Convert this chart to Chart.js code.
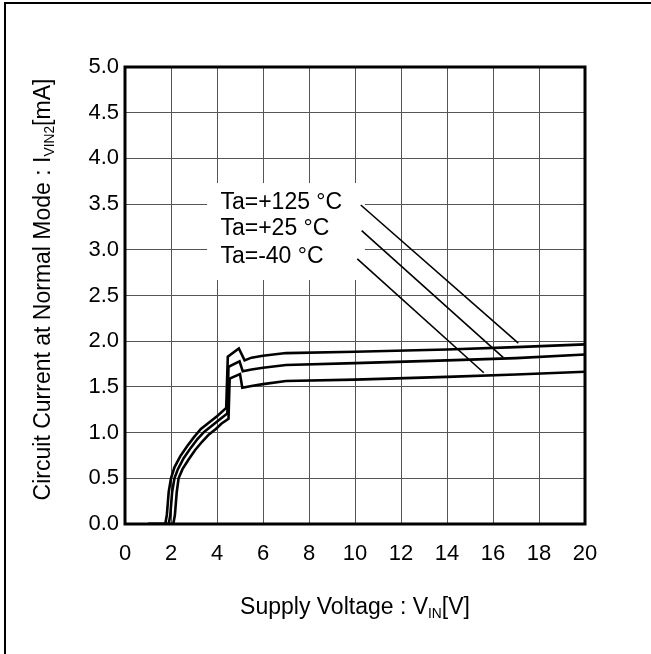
<!DOCTYPE html>
<html>
<head>
<meta charset="utf-8">
<script src="https://cdn.jsdelivr.net/npm/chart.js@4/dist/chart.umd.min.js"></script>
<style>
  html, body { margin: 0; padding: 0; background: #fff; }
  #wrap { position: relative; width: 651px; height: 654px; }
</style>
</head>
<body>
<div id="wrap"><canvas id="c"></canvas></div>
<script>
// Supply voltage [V] / circuit current [mA], one pair per temperature
const vin125 = [1.0, 1.75, 1.82, 1.9, 2.0, 2.15, 2.4, 2.7, 3.0, 3.3, 3.6, 4.0, 4.4, 4.47, 4.95, 5.2, 5.5, 6.0, 7.0, 10, 14, 17, 20];
const cur125 = [0, 0, 0.1, 0.35, 0.5, 0.62, 0.74, 0.85, 0.95, 1.04, 1.1, 1.18, 1.27, 1.83, 1.92, 1.79, 1.82, 1.84, 1.87, 1.885, 1.91, 1.935, 1.965];

const vin25 = [1.0, 1.9, 1.97, 2.05, 2.15, 2.3, 2.55, 2.85, 3.15, 3.45, 3.75, 4.1, 4.45, 4.5, 4.98, 5.12, 5.5, 6.0, 7.0, 10, 14, 17, 20];
const cur25 = [0, 0, 0.1, 0.35, 0.5, 0.6, 0.72, 0.83, 0.93, 1.01, 1.07, 1.14, 1.21, 1.72, 1.78, 1.67, 1.69, 1.71, 1.74, 1.76, 1.79, 1.815, 1.855];

const vinM40 = [1.0, 2.1, 2.17, 2.25, 2.33, 2.5, 2.75, 3.05, 3.35, 3.65, 3.95, 4.2, 4.5, 4.55, 5.0, 5.1, 5.5, 6.0, 7.0, 10, 14, 17, 20];
const curM40 = [0, 0, 0.1, 0.35, 0.5, 0.6, 0.7, 0.81, 0.9, 0.98, 1.04, 1.1, 1.15, 1.59, 1.64, 1.49, 1.51, 1.53, 1.565, 1.58, 1.61, 1.635, 1.665];

// leader lines from the temperature labels to the curves
const tempLabels = ['Ta=+125 °C', 'Ta=+25 °C', 'Ta=-40 °C'];
const leaderFromV = [10.25, 10.29, 10.1];
const leaderFromI = [3.49, 3.21, 2.90];
const leaderToV = [17.1, 16.45, 15.6];
const leaderToI = [1.98, 1.82, 1.655];

const xTicks = [0, 2, 4, 6, 8, 10, 12, 14, 16, 18, 20];
const yTicks = [0, 0.5, 1, 1.5, 2, 2.5, 3, 3.5, 4, 4.5, 5];

const FONT = "'Liberation Sans', Arial, sans-serif";
const TEXT = 23;

function pts(xs, ys) { return xs.map((x, i) => ({ x: x, y: ys[i] })); }

const curve = (xs, ys) => ({
  data: pts(xs, ys), showLine: true, borderColor: '#000', borderWidth: 2.6,
  pointRadius: 0, tension: 0, fill: false
});
const leader = i => ({
  data: [{ x: leaderFromV[i], y: leaderFromI[i] }, { x: leaderToV[i], y: leaderToI[i] }],
  showLine: true, borderColor: '#000', borderWidth: 1.6, pointRadius: 0, fill: false
});

// text with a subscript part: [[text, isSub], ...]
function richWidth(ctx, parts, size) {
  let w = 0;
  parts.forEach(p => {
    ctx.font = (p[1] ? size * 0.6 : size) + 'px ' + FONT;
    w += ctx.measureText(p[0]).width;
  });
  return w;
}
function richText(ctx, parts, x, y, size) {
  let cx = x - richWidth(ctx, parts, size) / 2;
  ctx.textAlign = 'left';
  ctx.textBaseline = 'alphabetic';
  parts.forEach(p => {
    ctx.font = (p[1] ? size * 0.6 : size) + 'px ' + FONT;
    ctx.fillText(p[0], cx, p[1] ? y + size * 0.18 : y);
    cx += ctx.measureText(p[0]).width;
  });
}

const decor = {
  id: 'decor',
  beforeDatasetsDraw(chart) {
    const ctx = chart.ctx, xs = chart.scales.x, ys = chart.scales.y;
    // white box behind the temperature labels
    ctx.save();
    ctx.fillStyle = '#fff';
    const l = xs.getPixelForValue(3.57), r = xs.getPixelForValue(10.43);
    const t = ys.getPixelForValue(3.73), b = ys.getPixelForValue(2.67);
    ctx.fillRect(l, t, r - l, b - t);
    ctx.restore();
  },
  afterDraw(chart) {
    const ctx = chart.ctx, a = chart.chartArea, xs = chart.scales.x, ys = chart.scales.y;
    ctx.save();
    // outer frame (top and left only, picture is cropped)
    ctx.fillStyle = '#000';
    ctx.fillRect(4, 2, chart.width - 4, 2);
    ctx.fillRect(4, 2, 2, chart.height - 2);
    // plot border
    ctx.strokeStyle = '#000';
    ctx.lineWidth = 3;
    ctx.strokeRect(a.left, a.top, a.right - a.left, a.bottom - a.top);
    // temperature labels
    ctx.fillStyle = '#000';
    ctx.font = TEXT + 'px ' + FONT;
    ctx.textAlign = 'left';
    ctx.textBaseline = 'middle';
    tempLabels.forEach((s, i) => {
      ctx.fillText(s, xs.getPixelForValue(4.15), ys.getPixelForValue(leaderFromI[i]) - 2);
    });
    // axis titles
    richText(ctx, [['Supply Voltage : V', false], ['IN', true], ['[V]', false]],
      (a.left + a.right) / 2, a.bottom + 90, TEXT);
    ctx.translate(50, (a.top + a.bottom) / 2 - 6);
    ctx.rotate(-Math.PI / 2);
    richText(ctx, [['Circuit Current at Normal Mode : I', false], ['VIN2', true], ['[mA]', false]], 0, 0, TEXT);
    ctx.restore();
  }
};

new Chart(document.getElementById('c'), {
  type: 'scatter',
  data: {
    datasets: [
      curve(vin125, cur125), curve(vin25, cur25), curve(vinM40, curM40),
      leader(0), leader(1), leader(2)
    ]
  },
  options: {
    responsive: true,
    maintainAspectRatio: false,
    animation: false,
    events: [],
    layout: { padding: { top: 67, right: 66, left: 0, bottom: 0 } },
    plugins: { legend: { display: false }, tooltip: { enabled: false } },
    scales: {
      x: {
        type: 'linear', min: 0, max: 20,
        afterFit: s => { s.height = 130; },
        afterBuildTicks: s => { s.ticks = xTicks.map(v => ({ value: v })); },
        grid: { color: '#555', lineWidth: 1, drawTicks: false },
        border: { display: false },
        ticks: { color: '#000', font: { family: FONT, size: 22 }, padding: 17, maxRotation: 0,
          callback: v => String(v) }
      },
      y: {
        type: 'linear', min: 0, max: 5,
        afterFit: s => { s.width = 125; },
        afterBuildTicks: s => { s.ticks = yTicks.map(v => ({ value: v })); },
        grid: { color: '#555', lineWidth: 1, drawTicks: false },
        border: { display: false },
        ticks: { color: '#000', font: { family: FONT, size: 22 }, padding: 6,
          callback: v => v.toFixed(1) }
      }
    }
  },
  plugins: [decor]
});
</script>
</body>
</html>
